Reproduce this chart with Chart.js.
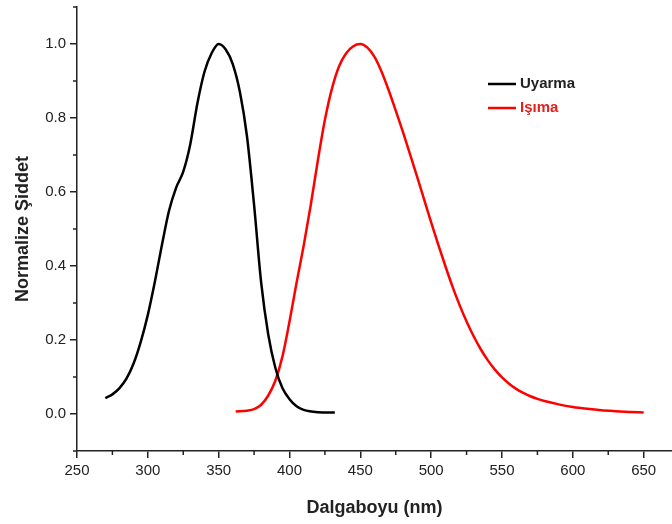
<!DOCTYPE html>
<html>
<head>
<meta charset="utf-8">
<script src="https://cdn.jsdelivr.net/npm/chart.js@4.4.1/dist/chart.umd.min.js"></script>
<style>
  html, body { margin: 0; padding: 0; background: #fff; }
  #wrap { width: 672px; height: 524px; }
</style>
</head>
<body>
<div id="wrap"><canvas id="chart" width="672" height="524"></canvas></div>
<script>
// ---------- Data ----------
const seriesNames = ["Uyarma", "Işıma"];

const excX = [270, 275, 280, 285, 290, 295, 300, 305, 310, 315, 320, 325, 330, 335, 340, 345, 350, 355, 360, 365, 370, 375, 380, 385, 390, 395, 400, 405, 410, 420, 432];
const excY = [0.043, 0.053, 0.07, 0.096, 0.137, 0.195, 0.268, 0.358, 0.458, 0.55, 0.612, 0.655, 0.73, 0.84, 0.925, 0.975, 1.0, 0.985, 0.945, 0.87, 0.75, 0.565, 0.355, 0.215, 0.125, 0.07, 0.04, 0.021, 0.011, 0.005, 0.004];

const emX = [362, 370, 375, 380, 385, 390, 395, 400, 405, 410, 415, 420, 425, 430, 435, 440, 445, 450, 455, 460, 465, 470, 475, 480, 485, 490, 495, 500, 505, 510, 515, 520, 525, 530, 535, 540, 545, 550, 555, 560, 565, 570, 575, 580, 590, 600, 610, 620, 630, 640, 650];
const emY = [0.007, 0.009, 0.013, 0.025, 0.05, 0.09, 0.155, 0.25, 0.355, 0.455, 0.565, 0.685, 0.795, 0.88, 0.94, 0.975, 0.994, 1.0, 0.99, 0.965, 0.925, 0.875, 0.82, 0.763, 0.703, 0.642, 0.58, 0.518, 0.458, 0.40, 0.345, 0.295, 0.25, 0.21, 0.175, 0.145, 0.12, 0.099, 0.082, 0.068, 0.057, 0.048, 0.041, 0.035, 0.026, 0.019, 0.014, 0.010, 0.0075, 0.0055, 0.004];

const xTickLabels = [250, 300, 350, 400, 450, 500, 550, 600, 650];
const yTickLabels = [0.0, 0.2, 0.4, 0.6, 0.8, 1.0];

const toPoints = (xs, ys) => xs.map((x, i) => ({ x: x, y: ys[i] }));

const FONT = "'Liberation Sans', Arial, Helvetica, sans-serif";
const INK = "#222";

// ---------- Minor tick marks + legend ----------
const decorPlugin = {
  id: "decor",
  afterDraw(chart) {
    const ctx = chart.ctx;
    const xs = chart.scales.x, ys = chart.scales.y;
    const area = chart.chartArea;
    ctx.save();
    ctx.strokeStyle = INK;
    ctx.lineWidth = 1.5;
    // minor ticks (shorter)
    xs.ticks.forEach((t) => {
      if (xTickLabels.includes(Math.round(t.value))) return;
      const px = xs.getPixelForValue(t.value);
      ctx.beginPath();
      ctx.moveTo(px, area.bottom);
      ctx.lineTo(px, area.bottom + 4);
      ctx.stroke();
    });
    ys.ticks.forEach((t) => {
      const v = Math.round(t.value * 10) / 10;
      if (yTickLabels.some((l) => Math.abs(l - v) < 1e-6)) return;
      const py = ys.getPixelForValue(t.value);
      ctx.beginPath();
      ctx.moveTo(area.left, py);
      ctx.lineTo(area.left - 4, py);
      ctx.stroke();
    });

    // legend
    const lx = 488, ly = 84, gap = 24;
    chart.data.datasets.forEach((ds, i) => {
      const y = ly + i * gap;
      ctx.strokeStyle = ds.borderColor;
      ctx.lineWidth = 2.5;
      ctx.beginPath();
      ctx.moveTo(lx, y);
      ctx.lineTo(lx + 28, y);
      ctx.stroke();
      ctx.fillStyle = i === 0 ? INK : "#e3201b";
      ctx.font = "bold 15px " + FONT;
      ctx.textBaseline = "middle";
      ctx.textAlign = "left";
      ctx.fillText(ds.label, lx + 32, y);
    });
    ctx.restore();
  },
};

const chart = new Chart(document.getElementById("chart"), {
  type: "line",
  data: {
    datasets: [
      { label: seriesNames[0], data: toPoints(excX, excY), borderColor: "#000000", borderWidth: 2.5, pointRadius: 0, cubicInterpolationMode: "monotone", fill: false },
      { label: seriesNames[1], data: toPoints(emX, emY), borderColor: "#ff0000", borderWidth: 2.5, pointRadius: 0, cubicInterpolationMode: "monotone", fill: false },
    ],
  },
  options: {
    responsive: false,
    animation: false,
    events: [],
    layout: { padding: { top: 7, right: 0, bottom: 0, left: 0 } },
    plugins: { legend: { display: false }, tooltip: { enabled: false } },
    scales: {
      x: {
        type: "linear",
        min: 250,
        max: 670,
        border: { display: true, color: INK, width: 1.5 },
        grid: {
          drawOnChartArea: false,
          drawTicks: true,
          tickLength: 7,
          lineWidth: 1.5,
          color: (c) => (c.tick && xTickLabels.includes(Math.round(c.tick.value)) ? INK : "rgba(0,0,0,0)"),
        },
        ticks: {
          stepSize: 25,
          includeBounds: false,
          autoSkip: false,
          maxRotation: 0,
          padding: 4,
          color: INK,
          font: { family: FONT, size: 15 },
          callback: (v) => (xTickLabels.includes(Math.round(v)) ? String(Math.round(v)) : ""),
        },
        title: {
          display: true,
          text: "Dalgaboyu (nm)",
          color: INK,
          font: { family: FONT, size: 18, weight: "bold", lineHeight: 1.2 },
          padding: { top: 0, bottom: 5 },
        },
        afterFit: (s) => { s.height = 73; s.paddingRight = 0; },
      },
      y: {
        type: "linear",
        min: -0.1,
        max: 1.1,
        border: { display: true, color: INK, width: 1.5 },
        grid: {
          drawOnChartArea: false,
          drawTicks: true,
          tickLength: 7,
          lineWidth: 1.5,
          color: (c) => {
            if (!c.tick) return "rgba(0,0,0,0)";
            const v = Math.round(c.tick.value * 10) / 10;
            return yTickLabels.some((l) => Math.abs(l - v) < 1e-6) ? INK : "rgba(0,0,0,0)";
          },
        },
        ticks: {
          stepSize: 0.1,
          includeBounds: false,
          autoSkip: false,
          padding: 4,
          color: INK,
          font: { family: FONT, size: 15 },
          callback: (v) => {
            const r = Math.round(v * 10) / 10;
            return yTickLabels.some((l) => Math.abs(l - r) < 1e-6) ? r.toFixed(1) : "";
          },
        },
        title: {
          display: true,
          text: "Normalize Şiddet",
          color: INK,
          font: { family: FONT, size: 18, weight: "bold", lineHeight: 1.2 },
          padding: { top: 12, bottom: 0 },
        },
        afterFit: (s) => { s.width = 77; s.paddingTop = 0; s.paddingBottom = 0; },
      },
    },
  },
  plugins: [decorPlugin],
});
</script>
</body>
</html>
